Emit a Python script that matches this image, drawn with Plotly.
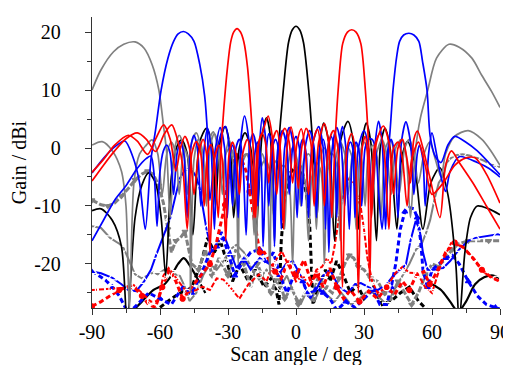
import plotly.graph_objects as go

# ---------------- data (angle deg, gain dBi) ----------------
x_ticks = [-90, -60, -30, 0, 30, 60, 90]
x_ticklabels = ["-90", "-60", "-30", "0", "30", "60", "90"]
y_ticks = [-20, -10, 0, 10, 20]
y_ticklabels = ["-20", "-10", "0", "10", "20"]

black_co = [(-90,-10.8),(-86,-10.5),(-81,-12.5),(-77,-17),(-74.5,-30),(-71,-12),(-68,-6.4),(-65,-4.3),(-62,-6),(-59.5,-12),(-57.5,-22),(-55,-5),(-52.5,0.3),(-50.5,1.4),(-48,-1),(-45.5,-15),(-42.5,1),(-39.5,3.4),(-37,0.5),(-35.5,-10),(-33.5,1),(-31.3,3.7),(-29,0),(-27.5,-12),(-25,0),(-22.5,2.6),(-20,0),(-17.5,-14),(-15,2),(-13,5.2),(-11.3,2),(-9.8,-12),(-7.8,0),(-5.6,10),(-3.3,18.2),(-1.6,20.4),(0,21),(1.6,20.4),(3.3,18.2),(5.6,10),(7.5,0),(9.3,-12),(10.7,1),(12.2,4.3),(14.5,1),(17,-16),(19.5,1),(22.9,4.6),(25.5,0.5),(27.5,-14),(29.2,1),(31,4.3),(33,1),(35.5,-16),(37.3,0.5),(39.3,3.4),(41.5,0),(44.5,-14),(46.5,-2),(49.2,1.1),(52,-2),(56,-14),(59.5,-6),(63.5,-3.4),(67,-8),(70.5,-20),(72,-30),(74.5,-18),(77,-12),(80,-10),(85,-10.5),(90,-11.5)]

red_m25_co = [(-90,-5.7),(-85,-3),(-80,-0.5),(-75,1.6),(-70,2.6),(-66,1.5),(-62,-0.6),(-58,2.5),(-54.8,4),(-52,1),(-50,-3),(-48,-14),(-46,-1),(-44,1.1),(-42,-1),(-40.5,-10),(-39,-1),(-37.5,0.6),(-36,-2),(-34.3,-12),(-33,0),(-31.8,7),(-30.2,14),(-28.8,18.3),(-27.5,20),(-26,20.6),(-24.5,20),(-23,18.3),(-21.4,14),(-20,7),(-18.9,0),(-17.8,-12),(-16.3,1),(-14.5,3),(-12.3,5.5),(-10.5,2),(-8.5,-8),(-6.5,2),(-4.9,3.4),(-3,1),(-1.5,-6),(0.5,1),(2.3,3.3),(4,0),(5.5,-8),(7.5,1),(9.5,3.2),(11,0),(12.5,-10),(14.5,1),(16.5,3),(18.5,0),(20.5,-24),(22.5,0),(24.5,2.5),(26,0),(27.5,-25),(29.2,0),(30.5,2),(31.5,-1),(32.5,-23),(34.5,0),(37,2.5),(39,-1),(41,-14),(43,0),(45,1),(47,-2),(49,-10),(51,-2),(54,1),(57,-3),(60,-8),(65,-6),(70,-3),(75,-1.7),(79,-1.7),(84,-4.5),(90,-9.5)]

red_p25_co = [(-90,-4.2),(-85,-2),(-80,0.5),(-74,2.2),(-70,1.2),(-65.5,-1.1),(-62,1.5),(-58.4,4),(-55.5,1.5),(-53,-4),(-51,0),(-49,2),(-47,0),(-45,-8),(-43,-1),(-41,1.5),(-39.5,-1),(-38,-18),(-36,-2),(-34,0.5),(-32.5,-2),(-31,-16),(-29.5,-1),(-28,1),(-26.5,-1),(-25,-8),(-23.5,-1),(-21.5,1.5),(-20,-1),(-18.5,-12),(-17,0),(-15,2.5),(-13.5,1),(-12,-6),(-10.5,1),(-8.5,3),(-7,0),(-5.5,-14),(-4,0),(-2.2,3.6),(-0.5,0),(1,-7),(2.5,0),(4.5,3.4),(6.5,1),(8,-10),(10,1),(12.5,4.2),(14.3,1),(15.8,-12),(17.1,0),(18.6,10),(20.6,18),(22.7,20),(24.6,20.4),(26.5,20),(28.6,18),(30.6,10),(32.1,0),(33.3,-12),(35.5,1),(38.5,3.8),(41,1),(43,-8),(45,0),(47,1.5),(49,-2),(50.5,-6),(52,1.5),(53.6,2.9),(56,0),(59,-5),(63.5,-12),(66,-3),(68.6,-0.5),(72,-2.5),(78,-6),(84,-10),(90,-14)]

blue_m50_co = [(-90,-4.3),(-85,-1.8),(-80,0.2),(-75.5,1.2),(-72,-1.5),(-69,-6),(-66.5,-14),(-64,-2),(-62,3),(-59.5,10),(-56.5,15.5),(-54,18.4),(-52,19.7),(-49.7,20.1),(-47.5,19.7),(-45,18.4),(-42.5,14.5),(-40.3,9),(-39,2),(-38,-9),(-35.5,0),(-33.5,3.5),(-31.5,0),(-30.3,-12),(-29,-1),(-28,0.5),(-27,-1),(-25.5,-12),(-24.2,2),(-22.7,5.5),(-21,2),(-19.5,-8),(-18,-0.5),(-17,1),(-15.5,-2),(-14.5,-17),(-13,0),(-12,2.5),(-10.5,0),(-9.5,-17),(-8,0),(-6,3),(-4,0),(-3,-8),(-1.5,0),(0,2),(1.5,0),(2.5,-10),(4,0),(6,3),(8,0),(9,-12),(10.5,0),(12,1.5),(13.5,-2),(14.5,-18),(16,0),(18,3.5),(20,0),(21.5,-10),(23,0),(24,1),(25,0),(26,-12),(27.5,0),(30,3),(32,0),(33.5,-10),(35,1),(36.4,4.6),(38,1),(39.5,-14),(41,0),(42,1.5),(43.5,-1),(45,-12),(46.5,1),(48.5,4.5),(50.5,1),(52,-8),(53.5,-1),(54.5,0.5),(56,-2),(57,-10),(58.5,-1),(60,2.6),(62,-1),(64,-5),(66,-7.5),(68,-4),(72,-1.5),(80,-2.5),(85,-3.5),(90,-5)]

blue_p50_co = [(-90,-16),(-85,-12.5),(-80,-9),(-75,-6.5),(-70,-3.5),(-66,-1.8),(-64,-1.4),(-62.5,-5),(-61.3,-13.5),(-60,-4),(-58.5,-0.5),(-57,0.5),(-55.5,-1),(-54,-8),(-52.5,-1),(-51,1),(-49.5,-1),(-48,-12),(-46.5,0),(-45,2.2),(-43.5,0),(-42,-10),(-40.5,0),(-39,3.4),(-37.5,0),(-36,-14),(-34.5,0),(-32.5,3),(-31,3.7),(-29.5,0),(-28,-10),(-26.5,0),(-25,1.5),(-23.5,-2),(-22,-15),(-20.5,0),(-19,2.5),(-17.5,0),(-16.8,-10),(-16,1),(-14.9,5.2),(-13.5,2),(-12,-10),(-10.5,0),(-9,1.5),(-7.5,-1),(-6.5,-14),(-5,0),(-3,3.5),(-1,0),(0.5,-12),(1.8,0),(3,1.5),(4.5,-1),(5.5,-12),(7,0),(10,3.7),(12,0),(13,-14),(14,0),(15.5,2),(17,-1),(18,-12),(19,0),(20.5,3.7),(22,0),(23.5,-14),(25,-1),(26.5,1),(28,-1),(29,-10),(30.5,0),(32,1.5),(33.5,1.5),(35,0),(36.5,-8),(38,-14),(40,-2),(41.3,2),(42.8,10),(44.5,16),(45.7,18.4),(47.5,19.5),(49.8,19.8),(52,19.5),(54.2,18.4),(55.8,15),(57.8,10),(59.2,2),(61.5,-1.5),(64,-2.5),(67,0.5),(70,2),(75,1),(80,-0.5),(85,-2.5),(90,-4.6)]

gray_m70_co = [(-90,10),(-86,13.5),(-80.5,16.6),(-76,17.9),(-71,18.3),(-67,17.2),(-63.5,14.4),(-60.5,10),(-58.5,4),(-57,-1),(-55.5,-12),(-53.5,0),(-51.5,2.2),(-49.5,0),(-48,-8),(-46,1),(-44,2.6),(-42,0),(-40.5,-8),(-38.5,1),(-36.5,2.8),(-34.5,0),(-33,-6),(-31,-1),(-29,0),(-27,-2),(-25.5,-20),(-24,-2),(-22,-1),(-20,-3),(-18.5,-15),(-17,-3),(-15,-1),(-13,-4),(-11.5,-22),(-10,-3),(-8,-2),(-6,-5),(-5,-14),(-3.5,-3),(-1.5,0),(0.5,-2),(2,-10),(3.5,-2),(5.5,-1),(7.5,-3),(9,-14),(10.5,-2),(12.5,0),(14.5,-2),(16,-12),(17.5,-2),(19.5,1),(21.5,-1),(23,-8),(25,-1),(27,0.5),(29,-2),(30.5,-10),(32,-1),(34,0.5),(36,-2),(37.5,-12),(39.5,0),(41.5,1.5),(43.5,-1),(45.5,-8),(48,0),(50,1.5),(52,-1),(54,-6),(56.5,-1),(59,1),(61.5,-2),(64,-5),(66,-1),(70,2),(76,3),(82,1.5),(86,-0.5),(90,-3)]

gray_p67_co = [(-90,0.5),(-85.5,1.1),(-81,-0.5),(-77,-4),(-75,-10),(-73.5,-28),(-71.5,-6),(-69,-1),(-66.5,0.3),(-63.5,1.4),(-61,-1),(-59,-8),(-57,-1),(-55,1),(-53,-1),(-51.5,-8),(-49.5,0),(-47.5,-2),(-46.5,-25),(-45,-2),(-43,1.5),(-41,-1),(-39.5,-10),(-38,0),(-36,2.5),(-34,0),(-32.5,-8),(-31,-1),(-29.5,1.5),(-28,-2),(-26,-10),(-24,-3),(-21.5,-1),(-19,-4),(-17.5,-18),(-16,-4),(-13.5,-2),(-11,-5),(-9.5,-16),(-8,-4),(-5.5,-3),(-3,-6),(-1.5,-20),(0,-5),(2,-3),(4,-6),(5.5,-16),(7,-5),(9,-2.5),(11,-4),(12.5,-20),(14,-4),(16,-1),(18,-3),(19.5,-16),(21,-3),(23,0),(25,-2),(26.5,-14),(28,-2),(30,1),(32,-1),(33.5,-10),(35.5,-1),(38,1.5),(40,-1),(42,-8),(44,0),(46.5,1.5),(48.5,-1),(50.5,-12),(52.5,-1),(54.9,5.2),(58,9.8),(62,15.5),(67.5,17.9),(72,17.4),(77.6,15.5),(82,12.5),(86.2,9.8),(90,7)]

black_x = [(-60,-27.5),(-55,-26),(-51,-25),(-46,-24),(-42,-20),(-39,-15.5),(-36,-18),(-33.4,-16),(-31,-19),(-28,-23),(-24.9,-20.1),(-21,-23),(-18,-21),(-14,-24),(-10,-22),(-8.5,-25),(-7.5,-27),(-6.5,-16),(-5,-9),(-3,-4.5),(0,-3.2),(3,-4.5),(5,-9),(6,-13),(6.5,-17),(7.5,-27),(10,-24),(13,-21),(15,-23),(17.9,-19.5),(21,-22),(24,-25),(27.1,-23.6),(30,-26),(34,-24),(38,-27),(42,-26.4),(46,-25),(50,-24),(54,-26.4),(58,-28)]

black_far_left = [(-73,-28.5),(-68,-26.5),(-63,-24.5),(-58,-23.5),(-55,-22),(-52,-20),(-49.5,-19),(-46.5,-20.5),(-43.5,-22.5),(-40,-25)]
black_far_right = [(60,-23.5),(64,-24.5),(68,-26.5),(71.5,-28.2),(75,-26.5),(79,-23.5),(83,-22.3),(87,-22),(90,-22.5)]

red_m25_x = [(-90,-27.3),(-86,-26.5),(-82,-25.5),(-78,-24.5),(-74,-24),(-71,-24.2),(-68,-25.5),(-65,-27),(-62,-27.5),(-59,-24),(-56,-21),(-53,-23),(-50,-26),(-46,-24),(-42,-22),(-38,-20),(-35.5,-17),(-33,-12.5),(-31.3,-9.8),(-29.7,-4.6),(-28.4,-2.6),(-26.3,-1.4),(-24,-2),(-22,-4),(-20.5,-7.5),(-19,-11),(-17.5,-15),(-16,-18),(-14,-18),(-11.5,-19.5),(-9.2,-21.3),(-6.5,-22.5),(-3.5,-19.5),(0,-22),(3.6,-19.3),(6.5,-23),(9.3,-21.8),(12,-24),(15,-20.7),(18,-24),(21,-26),(24,-24.5),(28,-26.5),(32.1,-24.7),(36,-26),(40,-24),(43.5,-25.3),(47,-23),(50,-24.5),(53,-22),(56.4,-21.3),(59,-23.5),(62,-21.5),(66,-18),(70,-16.3),(74,-17.2),(78,-19),(82,-21),(86,-22.3),(90,-23)]

red_p25_x = [(-90,-24.5),(-86,-24.4),(-81,-24.3),(-76,-24.1),(-72,-23.5),(-68,-25),(-64,-26.5),(-61,-26.4),(-58.5,-22),(-56.2,-20.7),(-53.5,-22),(-51.2,-23.3),(-48,-25),(-44,-24.5),(-41.3,-23.9),(-38,-24.5),(-35,-22.5),(-32,-22.7),(-29,-24),(-25,-26),(-21,-23.5),(-18.5,-22.5),(-16.3,-21.8),(-13,-23),(-10,-20),(-6.3,-17.8),(-3,-20.5),(0,-23),(3,-22),(6,-24),(9,-21),(11.5,-20.5),(13.6,-19),(15.5,-20),(17,-17),(18.6,-13.2),(20,-9.5),(21.5,-7),(23.6,-5.2),(25.5,-6),(27,-8),(28.6,-10.3),(30,-14),(31.5,-19),(33.6,-23),(36,-25),(40,-24),(44,-21.5),(47,-20.5),(50,-21.5),(53.5,-21.6),(57,-24),(60,-25),(64,-20),(68.4,-16.4),(73.5,-17),(78.4,-19),(83.4,-21.6),(88.4,-22.7),(90,-23)]

blue_m50_x = [(-90,-21.3),(-86,-21.6),(-81,-22.4),(-77,-23.5),(-74,-24.5),(-70.5,-24.7),(-67,-23),(-64,-21),(-61.9,-18.7),(-58.5,-15),(-55.5,-12.1),(-53,-8),(-51.2,-5.2),(-49,-3.8),(-46.5,-3.4),(-44,-5),(-42.5,-7),(-41.3,-9.8),(-39.5,-14),(-37,-18),(-34.5,-16),(-31.3,-15.5),(-29,-18),(-26.3,-20.7),(-23,-19),(-20,-21),(-16,-19),(-11.3,-20.1),(-8,-22),(-4.5,-20),(-1.4,-19.5),(2,-22),(5,-25),(8.6,-24.7),(12,-22),(15,-21),(19,-24),(23,-25),(26,-23.5),(28.6,-23.3),(32,-24),(36,-24.5),(40,-23.5),(43,-22),(46,-21),(48.5,-20.1),(50.5,-16),(52.8,-12.6),(54.5,-14),(56,-18),(58,-21),(61,-21),(64.9,-20.7),(68,-19.5),(72,-17.5),(76,-16),(79.2,-15.5),(84,-15.2),(89.1,-14.9),(90,-15)]

blue_p50_x = [(-90,-21.2),(-87,-22),(-84,-22.8),(-81,-24),(-78,-25.5),(-76,-27),(-74,-28.5),(-70,-27),(-65,-25),(-60,-26),(-55,-27),(-50,-24),(-46,-25),(-42,-22),(-38,-18),(-35,-17),(-33,-14.5),(-30,-18),(-27,-22),(-24,-20),(-20,-18),(-16,-17.5),(-13,-20),(-10,-18),(-7,-22),(-4,-25),(0,-21),(3,-23),(6,-26),(9,-24),(12,-25),(15,-26),(18,-28),(22,-26.5),(26,-27.5),(30,-26),(34,-24.5),(37,-27),(40,-27),(42,-24),(44,-20),(46,-14),(48,-11),(50,-10.3),(52,-10.5),(53.5,-12),(55,-16),(56,-21),(58,-24),(60,-21),(63,-20),(66,-19),(69,-18.5),(72,-20),(76,-23),(80,-25.5),(84,-27),(88,-27.5),(90,-27.8)]

gray_m70_x = [(-90,-9),(-86,-9.8),(-83,-10),(-80,-9.5),(-77,-8.3),(-74,-7),(-71,-5.5),(-68,-4.5),(-65.5,-4),(-63,-4.5),(-60.5,-6.5),(-58.5,-9.5),(-56.5,-14),(-55,-18),(-53,-16),(-51,-15.5),(-49,-14.4),(-46,-20),(-43,-21),(-40,-17.5),(-37,-22),(-34,-19),(-30,-22),(-26.5,-17.5),(-23,-20),(-20,-24),(-17,-20),(-14,-23),(-11,-25),(-8,-22),(-5,-26),(-2,-24),(1,-27),(4,-25),(7,-26),(10,-22),(13,-24),(16,-25),(19,-22.5),(21.5,-20),(23.5,-18.5),(25.5,-19),(27.5,-20.5),(30,-21),(33,-22.5),(36,-23),(39,-25),(42,-26),(45,-23),(48,-25),(51,-27),(54,-25),(57,-22),(60,-20),(63,-20.5),(66,-19),(69,-17.5),(72,-16.5),(76,-16),(80,-16),(85,-16),(90,-16)]

gray_p67_x = [(-90,-13.5),(-86,-13.8),(-82,-15.5),(-78,-16.5),(-76,-17.3),(-73,-20),(-71,-21.8),(-68,-22.5),(-66,-22.1),(-63,-21.5),(-61,-21.8),(-58,-21),(-55,-21.5),(-51.2,-22.1),(-49,-24),(-47,-26.4),(-44,-25),(-41,-22),(-38,-20),(-35,-21),(-32,-19.5),(-29,-17.5),(-26.3,-16.7),(-23,-18),(-20,-20.5),(-16.3,-22.7),(-13,-21),(-10,-22.5),(-7,-24),(-4,-22),(-1,-25),(2,-27),(5,-24.5),(8,-26.5),(11,-24),(14,-25.5),(17,-26.5),(20,-25),(24.3,-27),(28,-26),(32,-24.5),(36,-25.5),(40,-27),(44,-24),(47,-22),(50,-20),(53,-17.5),(55.5,-16.5),(57.5,-14.5),(59.2,-12.4),(61,-9),(63,-6),(64.9,-4.9),(66.5,-2.5),(68.5,-1.7),(71,-1.2),(73.5,-1.1),(76.5,-1.3),(79.9,-1.7),(83,-2.2),(86.3,-2.9),(89,-3.2),(90,-3.3)]

# ---------------- styling ----------------
RED, BLUE, GRAY, BLACK = "#ff0000", "#0000ff", "#808080", "#000000"
FONT = "Liberation Serif, Times New Roman, serif"

fig = go.Figure()

def xs(p):
    return [a for a, _ in p]

def ys(p):
    return [b for _, b in p]

def add_line(p, color, width, dash="solid", shape="spline", smooth=0.8):
    line = dict(color=color, width=width, dash=dash, shape=shape)
    if shape == "spline":
        line["smoothing"] = smooth
    fig.add_trace(go.Scatter(x=xs(p), y=ys(p), mode="lines", line=line,
                             showlegend=False, hoverinfo="skip"))

def add_markers(p, color, symbol, size, filled, step=2):
    sub = p[::step]
    fig.add_trace(go.Scatter(x=xs(sub), y=ys(sub), mode="markers",
                             marker=dict(symbol=symbol, size=size,
                                         color=color if filled else "white",
                                         line=dict(color=color, width=1.2)),
                             showlegend=False, hoverinfo="skip"))

# cross-polar curves
add_line(black_far_left, BLACK, 2.2)
add_line(black_far_right, BLACK, 2.2)
add_line(black_x, BLACK, 3, dash="5px,3px", shape="linear")
add_line(gray_m70_x, GRAY, 3, dash="6px,2px", shape="linear")
add_markers(gray_m70_x, GRAY, "triangle-down", 5, True)
add_line(gray_p67_x, GRAY, 2, shape="linear")
add_markers(gray_p67_x, GRAY, "triangle-down-open", 8, False)
add_line(blue_p50_x, BLUE, 3, dash="5px,3px", shape="linear")
add_markers(blue_p50_x, BLUE, "triangle-up", 5, True, step=3)
add_line(blue_m50_x, BLUE, 2, shape="linear")
add_markers(blue_m50_x, BLUE, "triangle-up-open", 8, False)
add_line(red_m25_x, RED, 3, dash="5px,3px", shape="linear")
add_markers(red_m25_x, RED, "circle", 5, True, step=3)
add_line(red_p25_x, RED, 2, dash="5px,2px", shape="linear")
add_markers(red_p25_x, RED, "circle-open", 7, False)

# co-polar curves
add_line(black_co, BLACK, 1.7)
add_line(gray_m70_co, GRAY, 1.7)
add_line(gray_p67_co, GRAY, 1.7)
add_line(blue_p50_co, BLUE, 1.7)
add_line(blue_m50_co, BLUE, 1.7)
add_line(red_p25_co, RED, 1.7)
add_line(red_m25_co, RED, 1.7)

axis_common = dict(showline=True, linecolor="#333333", linewidth=1.3,
                   ticks="outside", ticklen=6, tickwidth=1.3, tickcolor="#333333",
                   showgrid=False, zeroline=False, mirror=False,
                   ticklabeloverflow="allow",
                   tickfont=dict(family=FONT, size=20, color="black"))

fig.update_layout(
    width=511, height=365,
    margin=dict(l=81, r=9, t=9, b=65),
    paper_bgcolor="white", plot_bgcolor="white",
    font=dict(family=FONT, size=20, color="black"),
    xaxis=dict(range=[-90, 90], tickmode="array", tickvals=x_ticks, ticktext=x_ticklabels,
               minor=dict(ticks="outside", ticklen=3.5, tickwidth=1.2, tickcolor="#333333",
                          tickmode="array", tickvals=[-75, -45, -15, 15, 45, 75]),
               title=dict(text="Scan angle / deg", font=dict(family=FONT, size=20), standoff=1),
               **axis_common),
    yaxis=dict(range=[-27.6, 22.6], tickmode="array", tickvals=y_ticks, ticktext=y_ticklabels,
               ticklabelstandoff=20,
               minor=dict(ticks="outside", ticklen=3.5, tickwidth=1.2, tickcolor="#333333",
                          tickmode="array", tickvals=[-25, -15, -5, 5, 15]),
               title=dict(text="Gain / dBi", font=dict(family=FONT, size=20), standoff=3),
               **axis_common),
)

fig.write_html("out.html")
